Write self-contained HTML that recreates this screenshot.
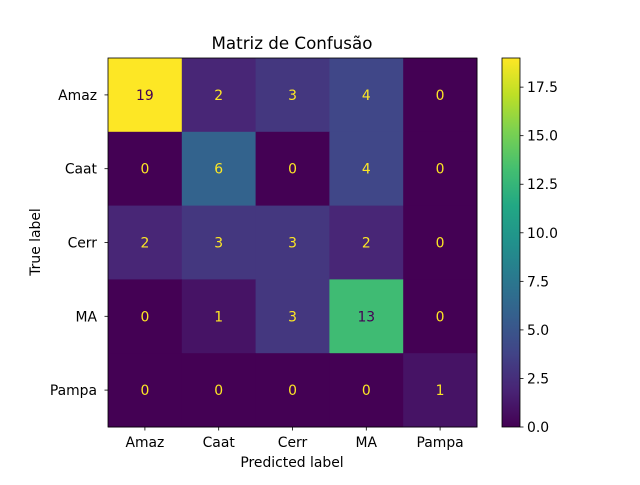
<!DOCTYPE html>
<html><head><meta charset="utf-8"><style>
body{margin:0;background:#fff;}
svg{font-family:"DejaVu Sans","Liberation Sans",sans-serif;}
</style></head><body>
<svg id="c" width="640" height="480" xmlns="http://www.w3.org/2000/svg">
<defs><linearGradient id="vg" x1="0" y1="1" x2="0" y2="0">
<stop offset="0" stop-color="#440154"/><stop offset="0.1" stop-color="#482475"/><stop offset="0.2" stop-color="#414487"/><stop offset="0.3" stop-color="#355f8d"/><stop offset="0.4" stop-color="#2a788e"/><stop offset="0.5" stop-color="#21918c"/><stop offset="0.6" stop-color="#22a884"/><stop offset="0.7" stop-color="#44bf70"/><stop offset="0.8" stop-color="#7ad151"/><stop offset="0.9" stop-color="#bddf26"/><stop offset="1" stop-color="#fde725"/>
</linearGradient></defs>
<text x="292" y="49" font-size="16.7" text-anchor="middle">Matriz de Confusão</text>
<g id="cells"></g>
<rect x="108" y="58" width="369" height="369" fill="none" stroke="#000" stroke-width="0.8"/>
<g id="axes"></g>
<text x="292" y="467" font-size="13.9" text-anchor="middle">Predicted label</text>
<text x="40" y="242" font-size="13.9" text-anchor="middle" transform="rotate(-90 40 242)">True label</text>
<rect x="502" y="58" width="18" height="369" fill="url(#vg)" stroke="#000" stroke-width="0.8"/>
<g id="cb"></g>
</svg>
<script>
const labels=["Amaz","Caat","Cerr","MA","Pampa"];
const row0=[19,2,3,4,0];
const row1=[0,6,0,4,0];
const row2=[2,3,3,2,0];
const row3=[0,1,3,13,0];
const row4=[0,0,0,0,1];
const cbTicks=[0,2.5,5,7.5,10,12.5,15,17.5];
const rows=[row0,row1,row2,row3,row4];
const NS="http://www.w3.org/2000/svg";
const x0=108,y0=58,W=369,n=labels.length,cw=W/n;
let vmax=0;rows.forEach(r=>r.forEach(v=>{if(v>vmax)vmax=v;}));
const vmin=0;
const stops=[[0,[68,1,84]],[0.1,[72,36,117]],[0.2,[65,68,135]],[0.3,[53,95,141]],[0.4,[42,120,142]],[0.5,[33,145,140]],[0.6,[34,168,132]],[0.7,[68,191,112]],[0.8,[122,209,81]],[0.9,[189,223,38]],[1,[253,231,37]]];
function vir(t){t=Math.max(0,Math.min(1,t));for(let i=1;i<stops.length;i++){if(t<=stops[i][0]){const a=stops[i-1],b=stops[i],f=(t-a[0])/(b[0]-a[0]);const c=a[1].map((v,k)=>Math.round(v+(b[1][k]-v)*f));return`rgb(${c.join(',')})`;}}return'rgb(253,231,37)';}
function el(t,a,p){const e=document.createElementNS(NS,t);for(const k in a)e.setAttribute(k,a[k]);p.appendChild(e);return e;}
const xs=i=>x0+cw*(i+0.5), ys=i=>y0+cw*(i+0.5);
const cy=v=>427-(v-vmin)/(vmax-vmin)*369;
const cells=document.getElementById('cells'),axes=document.getElementById('axes'),cb=document.getElementById('cb');
rows.forEach((r,i)=>r.forEach((v,j)=>{
 const t=(v-vmin)/(vmax-vmin);
 const rc=el('rect',{x:x0+cw*j,y:y0+cw*i,width:cw+0.5,height:cw+0.5,fill:vir(t)},cells);
 
 
 const tx=el('text',{x:xs(j),y:ys(i)+5,'font-size':13.9,'text-anchor':'middle',fill:t>0.5?'#440154':'#fde725'},cells);
 tx.textContent=v;
 
 
}));
labels.forEach((l,i)=>{
 el('line',{x1:xs(i),x2:xs(i),y1:427,y2:430.5,stroke:'#000','stroke-width':0.8},axes);
 const a=el('text',{x:xs(i),y:447,'font-size':13.9,'text-anchor':'middle'},axes);a.textContent=l;
 
 
 el('line',{x1:104.5,x2:108,y1:ys(i),y2:ys(i),stroke:'#000','stroke-width':0.8},axes);
 const b=el('text',{x:97,y:ys(i)+5,'font-size':13.9,'text-anchor':'end'},axes);b.textContent=l;
 
 
});
cbTicks.forEach(v=>{
 el('line',{x1:520,x2:523.5,y1:cy(v),y2:cy(v),stroke:'#000','stroke-width':0.8},cb);
 const t=el('text',{x:527,y:cy(v)+5,'font-size':13.9},cb);t.textContent=v.toFixed(1);
 
 
});
</script>
</body></html>
